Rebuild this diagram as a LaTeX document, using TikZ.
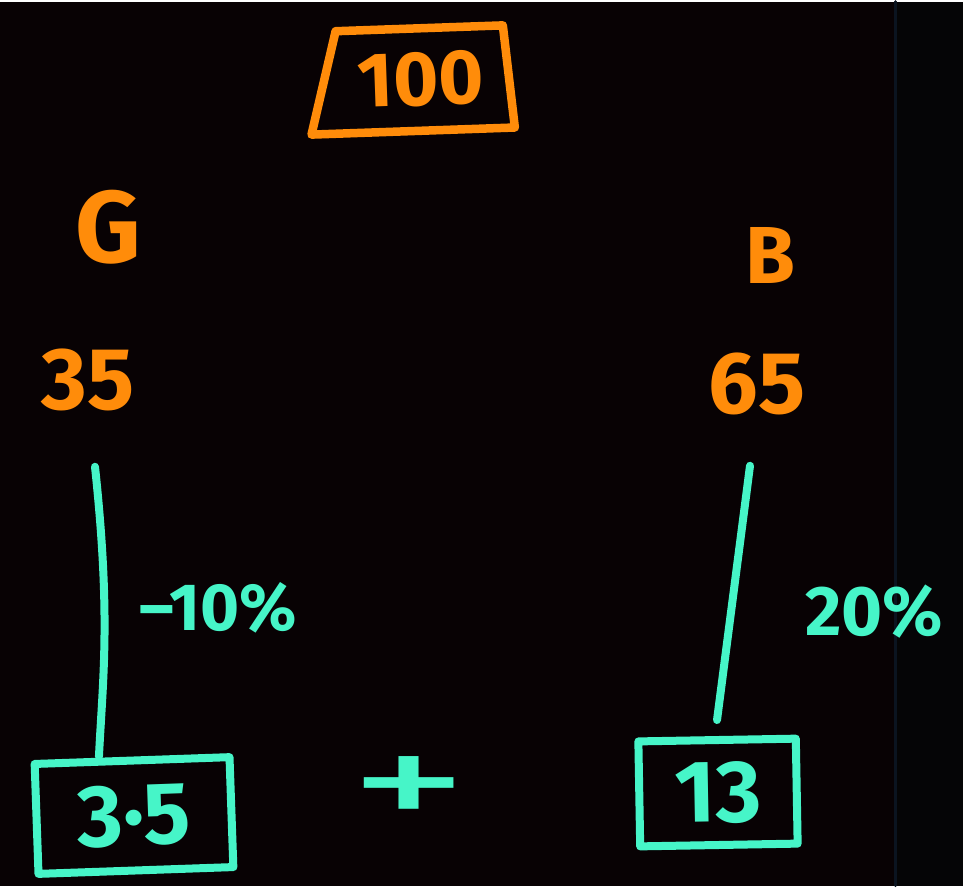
\documentclass[tikz,border=0pt]{standalone}
\usepackage{fontspec}
\setmainfont{Fira Sans}
\usepackage{xcolor}
\usetikzlibrary{shapes.geometric}
\definecolor{board}{HTML}{080204}
\definecolor{panel}{HTML}{050506}
\definecolor{paneledge}{HTML}{0B1420}
\definecolor{chalkor}{HTML}{FF8C0A}
\definecolor{chalkte}{HTML}{46F5C8}

\begin{document}
\begin{tikzpicture}[x=0.02cm,y=-0.02cm,line cap=round,line join=round,
  ortext/.style={text=chalkor,font=\fontsize{#1}{#1}\selectfont\bfseries},
  tetext/.style={text=chalkte,font=\fontsize{#1}{#1}\selectfont\bfseries},
  stroke/.style={draw=chalkte,line width=1.6mm},
  resbox/.style={stroke,rectangle,inner sep=0pt}]
% board and the side panel
\fill[board] (0,0) rectangle (963,884);
\fill[panel] (895,0) rectangle (963,884);
\draw[paneledge,line width=0.6mm] (895,0) -- (895,884);
%
\node (total) [ortext=44,draw=chalkor,line width=1.7mm,trapezium,
  trapezium left angle=71,trapezium right angle=84,trapezium stretches=true,
  minimum width=4.1cm,minimum height=2.05cm,rotate=2] at (421,78) {100};
\node (girls) [ortext=58] at (108,226) {G};
\node (boys) [ortext=46] at (770,254) {B};
\node (girlsnum) [ortext=50] at (88,378) {35};
\node (boysnum) [ortext=50] at (757,382) {65};
%
\node (girlsres) [resbox,tetext=50,minimum width=3.9cm,minimum height=2.2cm,
  rotate=2] at (134,814) {3·5};
\node (plus) [tetext=70,font=\fontsize{80}{80}\selectfont\mdseries,xscale=1.7] at (409,792) {+};
\node (boysres) [resbox,tetext=50,minimum width=3.15cm,minimum height=2.1cm,
  rotate=1] at (718,791) {13};
%
\node (girlsrate) [tetext=38] at (218,606) {--10\%};
\node (boysrate) [tetext=40] at (874,610) {20\%};
%
\draw[stroke] ([shift={(7,50)}]girlsnum.south) .. controls +(16,150) and +(4,-80) .. ([shift={(-33,0)}]girlsres.north);
\draw[stroke] ([shift={(-7,45)}]boysnum.south) -- ([shift={(0,-16)}]boysres.north);
\end{tikzpicture}
\end{document}
